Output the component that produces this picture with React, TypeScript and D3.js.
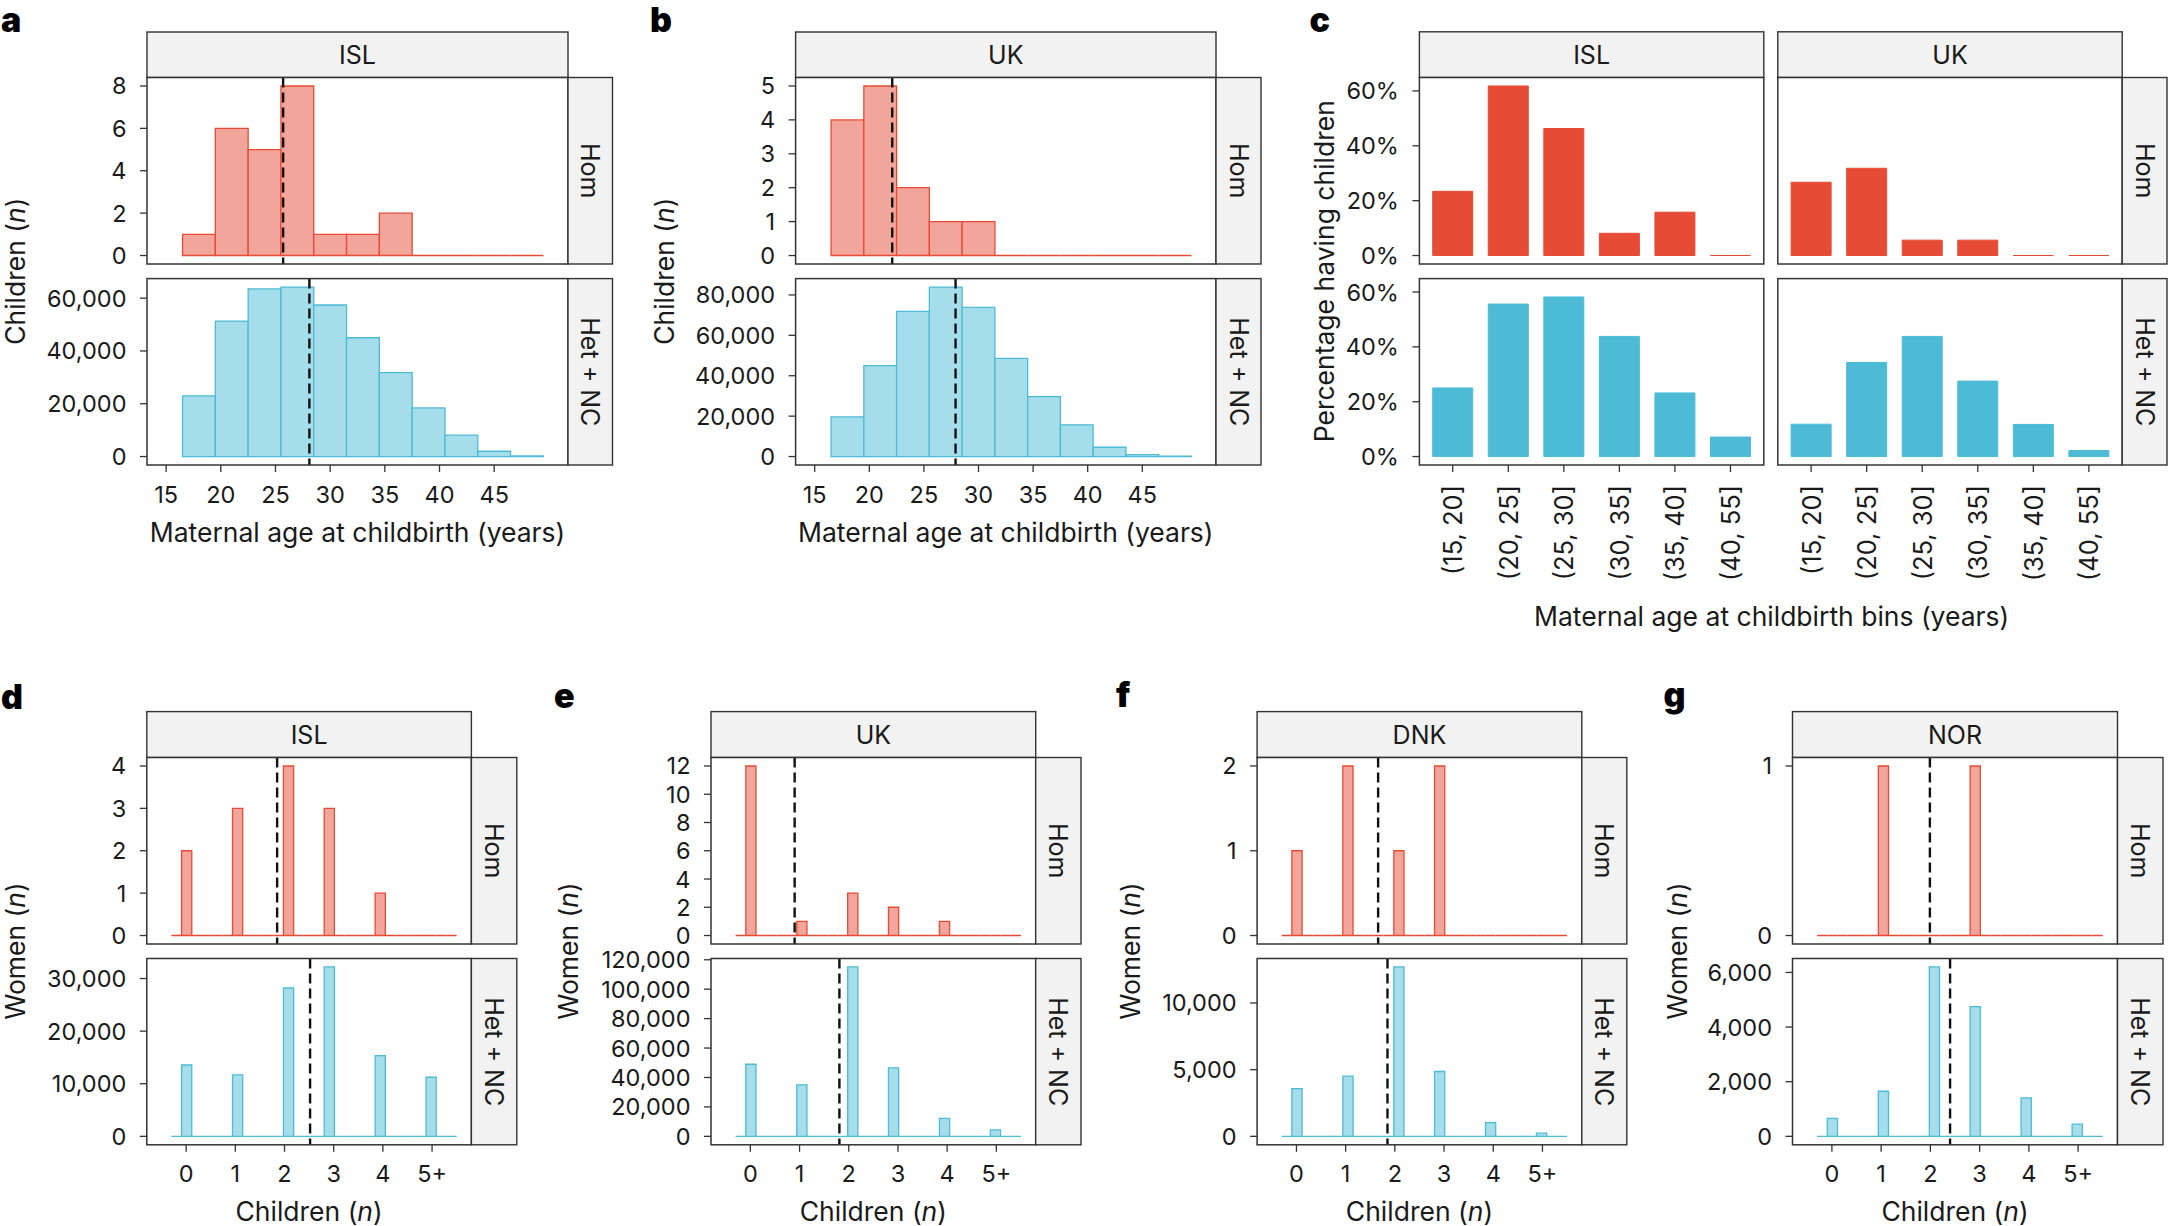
import React from 'react';
import * as d3 from 'd3';

const FONT = "Inter, 'DejaVu Sans', sans-serif";
const INK = '#1a1a1a';
const FRAME = '#333333';
const STRIP_FILL = '#f2f2f2';
const HOM = { stroke: '#E64B35', fill: '#F2A59A', solid: '#E64B35' };
const HET = { stroke: '#4DBBD5', fill: '#A6DDEA', solid: '#4DBBD5' };

const TICK_FS = 23.5;
const TITLE_FS = 26.5;
const STRIP_FS = 25;
const LETTER_FS = 34;

// a, b: children by maternal age (3-year bins)
const ageBinLower = [16.5, 19.5, 22.5, 25.5, 28.5, 31.5, 34.5, 37.5, 40.5, 43.5, 46.5];
const ageBinWidth = 3;
const ageAxisTicks = [15, 20, 25, 30, 35, 40, 45];
const islHomByAge = [1, 6, 5, 8, 1, 1, 2, 0, 0, 0, 0];
const islHetByAge = [23000, 51300, 63500, 64200, 57400, 45000, 31800, 18400, 8100, 2000, 200];
const ukHomByAge = [4, 5, 2, 1, 1, 0, 0, 0, 0, 0, 0];
const ukHetByAge = [19600, 45000, 71900, 83900, 73800, 48600, 29700, 15700, 4600, 900, 150];
const islMeanAge = [25.7, 28.1];
const ukMeanAge = [22.1, 27.9];
const islHomAgeTicks = [0, 2, 4, 6, 8];
const islHetAgeTicks = [0, 20000, 40000, 60000];
const ukHomAgeTicks = [0, 1, 2, 3, 4, 5];
const ukHetAgeTicks = [0, 20000, 40000, 60000, 80000];

// c: percentage having children by age bin
const ageBinLabels = ['(15, 20]', '(20, 25]', '(25, 30]', '(30, 35]', '(35, 40]', '(40, 55]'];
const pctIslHom = [23.4, 61.8, 46.3, 8.1, 15.8, 0];
const pctUkHom = [26.7, 31.8, 5.6, 5.6, 0, 0];
const pctIslHet = [25.0, 55.6, 58.2, 43.8, 23.2, 7.1];
const pctUkHet = [11.8, 34.3, 43.8, 27.5, 11.7, 2.2];
const pctTicks = [0, 20, 40, 60];

// d-g: women by number of children
const childLabels = ['0', '1', '2', '3', '4', '5+'];
const childBinOf = [1, 6, 11, 15, 20, 25];
const childBinCount = 28;
const childBinRange = [-0.3, 5.5];
const islHomWomen = [2, 3, 4, 3, 1, 0];
const islHetWomen = [13560, 11700, 28200, 32200, 15340, 11230];
const ukHomWomen = [12, 1, 3, 2, 1, 0];
const ukHetWomen = [48980, 35020, 115100, 46530, 12240, 4400];
const dnkHomWomen = [1, 2, 1, 2, 0, 0];
const dnkHetWomen = [3570, 4510, 12700, 4860, 1030, 240];
const norHomWomen = [0, 1, 0, 1, 0, 0];
const norHetWomen = [660, 1650, 6200, 4750, 1410, 450];
const islMeanChildren = [1.85, 2.52];
const ukMeanChildren = [0.9, 1.81];
const dnkMeanChildren = [1.66, 1.85];
const norMeanChildren = [1.99, 2.4];

const ROWS_TOP = [
  { label: 'Hom', y0: 77.5, y1: 264 },
  { label: 'Het + NC', y0: 278.6, y1: 465 },
];
const ROWS_BOT = [
  { label: 'Hom', y0: 757.5, y1: 944 },
  { label: 'Het + NC', y0: 958.5, y1: 1144.8 },
];

const comma = d3.format(',');

function Strip({ x, y, w, h, label, vertical = false }) {
  return (
    <g>
      <rect x={x} y={y} width={w} height={h} fill={STRIP_FILL} stroke={FRAME} strokeWidth={1.4} />
      {vertical ? (
        <text transform={`translate(${x + w / 2},${y + h / 2}) rotate(90)`} textAnchor="middle"
          dominantBaseline="central" fontSize={STRIP_FS} fill={INK}>{label}</text>
      ) : (
        <text x={x + w / 2} y={y + h / 2} textAnchor="middle" dominantBaseline="central"
          fontSize={STRIP_FS} fill={INK}>{label}</text>
      )}
    </g>
  );
}

function YAxis({ scale, ticks, x0, fmt }) {
  return (
    <g>
      {ticks.map((t) => (
        <g key={t}>
          <line x1={x0 - 7} x2={x0} y1={scale(t)} y2={scale(t)} stroke={FRAME} strokeWidth={1.3} />
          <text x={x0 - 20.5} y={scale(t)} textAnchor="end" dominantBaseline="central"
            fontSize={TICK_FS} fill={INK}>{fmt(t)}</text>
        </g>
      ))}
    </g>
  );
}

function XAxis({ positions, labels, y }) {
  return (
    <g>
      {positions.map((px, i) => (
        <g key={i}>
          <line x1={px} x2={px} y1={y} y2={y + 7} stroke={FRAME} strokeWidth={1.3} />
          <text x={px} y={y + 29} textAnchor="middle" dominantBaseline="central"
            fontSize={TICK_FS} fill={INK}>{labels[i]}</text>
        </g>
      ))}
    </g>
  );
}

function Letter({ x, y, children }) {
  return <text x={x} y={y} fontSize={LETTER_FS} fontWeight={900} fill="#000">{children}</text>;
}

// single-column facet figure with Hom / Het + NC rows drawn as histograms
function CountFigure({ letter, letterPos, col, x0, x1, rx, stripTop, rows, xDomain, xTickVals, xTickLabels,
  series, yTitle, yTitleX, xTitle, xTitleY }) {
  const x = d3.scaleLinear().domain(xDomain).range([x0, x1]);
  const last = rows[rows.length - 1];
  const midY = (rows[0].y0 + last.y1) / 2;
  return (
    <g>
      <Letter x={letterPos[0]} y={letterPos[1]}>{letter}</Letter>
      <Strip x={x0} y={stripTop} w={x1 - x0} h={rows[0].y0 - stripTop} label={col} />
      {rows.map((row, ri) => {
        const s = series[ri];
        const ymax = d3.max(s.values);
        const y = d3.scaleLinear().domain([-0.05 * ymax, 1.05 * ymax]).range([row.y1, row.y0]);
        return (
          <g key={ri}>
            <rect x={x0} y={row.y0} width={x1 - x0} height={row.y1 - row.y0} fill="white" />
            {s.bins.map(([lo, hi], i) => (
              <path key={i}
                d={`M${x(lo)},${y(0)}V${y(s.values[i])}H${x(hi)}V${y(0)}Z`}
                fill={s.pal.fill} stroke={s.pal.stroke} strokeWidth={1.3} />
            ))}
            <line x1={x(s.mean)} x2={x(s.mean)} y1={row.y0} y2={row.y1} stroke="#111"
              strokeWidth={2.4} strokeDasharray="10,5" />
            <rect x={x0} y={row.y0} width={x1 - x0} height={row.y1 - row.y0} fill="none"
              stroke={FRAME} strokeWidth={1.5} />
            <YAxis scale={y} ticks={s.ticks} x0={x0} fmt={comma} />
            <Strip x={x1} y={row.y0} w={rx - x1} h={row.y1 - row.y0} label={row.label} vertical />
          </g>
        );
      })}
      <XAxis positions={xTickVals.map((v) => x(v))} labels={xTickLabels} y={last.y1} />
      <text transform={`translate(${yTitleX},${midY}) rotate(-90)`} textAnchor="middle"
        dominantBaseline="central" fontSize={TITLE_FS} fill={INK}>
        {yTitle}<tspan> (</tspan><tspan fontStyle="italic">n</tspan><tspan>)</tspan>
      </text>
      <text x={(x0 + x1) / 2} y={xTitleY} textAnchor="middle" dominantBaseline="central"
        fontSize={TITLE_FS} fill={INK}>
        {xTitle}
      </text>
    </g>
  );
}

const ageBins = ageBinLower.map((lo) => [lo, lo + ageBinWidth]);

function AgeFigure({ letter, letterPos, col, x0, x1, rx, hom, het, means, homTicks, hetTicks, yTitleX }) {
  return (
    <CountFigure letter={letter} letterPos={letterPos} col={col} x0={x0} x1={x1} rx={rx} stripTop={32}
      rows={ROWS_TOP} xDomain={[13.25, 51.75]} xTickVals={ageAxisTicks} xTickLabels={ageAxisTicks.map(String)}
      series={[
        { bins: ageBins, values: hom, pal: HOM, mean: means[0], ticks: homTicks },
        { bins: ageBins, values: het, pal: HET, mean: means[1], ticks: hetTicks },
      ]}
      yTitle="Children" yTitleX={yTitleX}
      xTitle="Maternal age at childbirth (years)" xTitleY={532} />
  );
}

const childW = (childBinRange[1] - childBinRange[0]) / childBinCount;
const childBins = d3.range(childBinCount).map((k) => [childBinRange[0] + k * childW, childBinRange[0] + (k + 1) * childW]);
function expandChildren(vals) {
  const out = new Array(childBinCount).fill(0);
  vals.forEach((v, i) => { out[childBinOf[i]] = v; });
  return out;
}

function ChildFigure({ letter, letterPos, col, x0, x1, rx, hom, het, means, homTicks, hetTicks, yTitleX }) {
  return (
    <CountFigure letter={letter} letterPos={letterPos} col={col} x0={x0} x1={x1} rx={rx} stripTop={711.6}
      rows={ROWS_BOT} xDomain={[-0.8, 5.8]} xTickVals={d3.range(6)} xTickLabels={childLabels}
      series={[
        { bins: childBins, values: expandChildren(hom), pal: HOM, mean: means[0], ticks: homTicks },
        { bins: childBins, values: expandChildren(het), pal: HET, mean: means[1], ticks: hetTicks },
      ]}
      yTitle="Women" yTitleX={yTitleX}
      xTitle={<><tspan>Children (</tspan><tspan fontStyle="italic">n</tspan><tspan>)</tspan></>} xTitleY={1211} />
  );
}

function PercentFigure() {
  const cols = [
    { label: 'ISL', x0: 1419.4, x1: 1763.8, vals: [pctIslHom, pctIslHet] },
    { label: 'UK', x0: 1777.8, x1: 2122.2, vals: [pctUkHom, pctUkHet] },
  ];
  const rx = 2167;
  const rows = ROWS_TOP;
  const ymax = d3.max([...pctIslHom, ...pctUkHom, ...pctIslHet, ...pctUkHet]);
  const pals = [HOM, HET];
  return (
    <g>
      <Letter x={1309.6} y={32}>c</Letter>
      {cols.map((c) => {
        const x = d3.scalePoint().domain(ageBinLabels).range([c.x0, c.x1]).padding(0.6);
        const bw = x.step() * 0.72;
        return (
          <g key={c.label}>
            <Strip x={c.x0} y={31.8} w={c.x1 - c.x0} h={rows[0].y0 - 31.8} label={c.label} />
            {rows.map((row, ri) => {
              const y = d3.scaleLinear().domain([-0.05 * ymax, 1.05 * ymax]).range([row.y1, row.y0]);
              return (
                <g key={ri}>
                  <rect x={c.x0} y={row.y0} width={c.x1 - c.x0} height={row.y1 - row.y0} fill="white" />
                  {ageBinLabels.map((b, i) => (
                    <path key={b}
                      d={`M${x(b) - bw / 2},${y(0)}V${y(c.vals[ri][i])}H${x(b) + bw / 2}V${y(0)}Z`}
                      fill={pals[ri].solid} stroke={pals[ri].solid} strokeWidth={1} />
                  ))}
                  <rect x={c.x0} y={row.y0} width={c.x1 - c.x0} height={row.y1 - row.y0} fill="none"
                    stroke={FRAME} strokeWidth={1.5} />
                  {c.label === 'ISL' && (
                    <YAxis scale={y} ticks={pctTicks} x0={c.x0} fmt={(d) => `${d}%`} />
                  )}
                </g>
              );
            })}
            {ageBinLabels.map((b) => (
              <g key={b}>
                <line x1={x(b)} x2={x(b)} y1={rows[1].y1} y2={rows[1].y1 + 7} stroke={FRAME} strokeWidth={1.3} />
                <text transform={`translate(${x(b)},${rows[1].y1 + 20}) rotate(-90)`} textAnchor="end"
                  dominantBaseline="central" fontSize={25.5} fill={INK}>{b}</text>
              </g>
            ))}
          </g>
        );
      })}
      {rows.map((row) => (
        <Strip key={row.label} x={2122.2} y={row.y0} w={rx - 2122.2} h={row.y1 - row.y0} label={row.label} vertical />
      ))}
      <text transform={`translate(1324,${(rows[0].y0 + rows[1].y1) / 2}) rotate(-90)`} textAnchor="middle"
        dominantBaseline="central" fontSize={TITLE_FS} fill={INK}>Percentage having children</text>
      <text x={1771.6} y={616} textAnchor="middle" dominantBaseline="central" fontSize={TITLE_FS} fill={INK}>
        Maternal age at childbirth bins (years)
      </text>
    </g>
  );
}

export default function App() {
  return (
    <svg width={2168} height={1226} fontFamily={FONT}
      style={{ position: 'absolute', left: 0, top: 0, background: 'white', display: 'block' }}>
      <rect x={0} y={0} width={2168} height={1226} fill="white" />
      <AgeFigure letter="a" letterPos={[1, 32]} col="ISL" x0={147} x1={568} rx={612.5}
        hom={islHomByAge} het={islHetByAge} means={islMeanAge}
        homTicks={islHomAgeTicks} hetTicks={islHetAgeTicks} yTitleX={15} />
      <AgeFigure letter="b" letterPos={[650, 32]} col="UK" x0={795.6} x1={1216} rx={1261}
        hom={ukHomByAge} het={ukHetByAge} means={ukMeanAge}
        homTicks={ukHomAgeTicks} hetTicks={ukHetAgeTicks} yTitleX={663.5} />
      <PercentFigure />
      <ChildFigure letter="d" letterPos={[1, 708.7]} col="ISL" x0={146.8} x1={471.4} rx={516.8}
        hom={islHomWomen} het={islHetWomen} means={islMeanChildren}
        homTicks={d3.range(0, 5)} hetTicks={[0, 10000, 20000, 30000]} yTitleX={15} />
      <ChildFigure letter="e" letterPos={[554, 707.6]} col="UK" x0={711} x1={1035.7} rx={1081}
        hom={ukHomWomen} het={ukHetWomen} means={ukMeanChildren}
        homTicks={d3.range(0, 13, 2)} hetTicks={d3.range(0, 120001, 20000)} yTitleX={567.9} />
      <ChildFigure letter="f" letterPos={[1116, 707]} col="DNK" x0={1257.1} x1={1581.8} rx={1626.8}
        hom={dnkHomWomen} het={dnkHetWomen} means={dnkMeanChildren}
        homTicks={[0, 1, 2]} hetTicks={[0, 5000, 10000]} yTitleX={1130.4} />
      <ChildFigure letter="g" letterPos={[1663.6, 707]} col="NOR" x0={1792.5} x1={2117.5} rx={2163}
        hom={norHomWomen} het={norHetWomen} means={norMeanChildren}
        homTicks={[0, 1]} hetTicks={[0, 2000, 4000, 6000]} yTitleX={1677} />
    </svg>
  );
}
